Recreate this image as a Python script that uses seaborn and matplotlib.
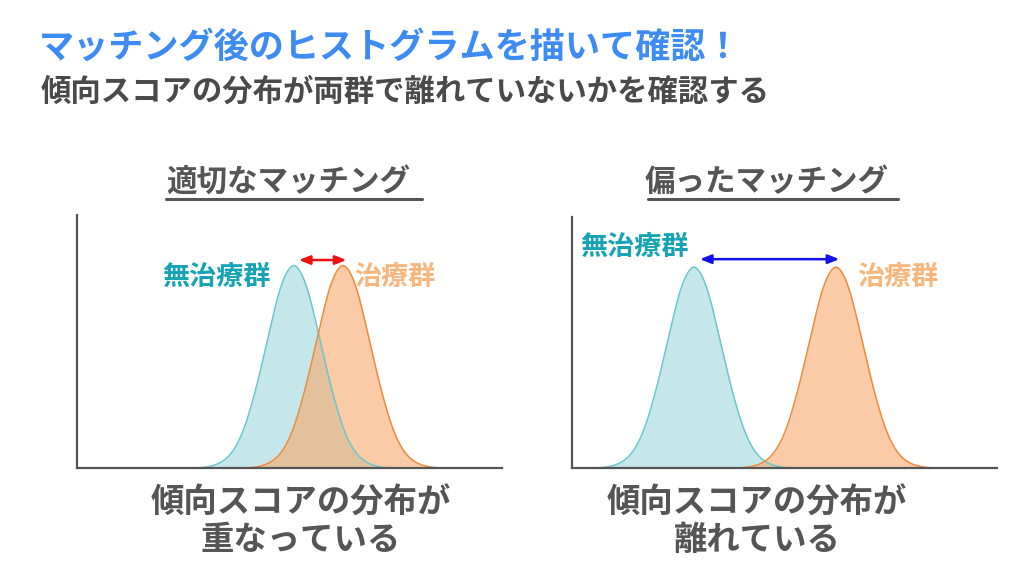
import numpy as np
import pandas as pd
import seaborn as sns
import matplotlib
matplotlib.use("Agg")
import matplotlib.pyplot as plt
from matplotlib.lines import Line2D

# ---------------- data ----------------
# histogram bins of the propensity score (0..1 along the x axis) and relative counts
counts = [1, 4, 13, 33, 60, 88, 100, 88, 60, 33, 13, 4, 1]

good_control_bins = [0.324, 0.355, 0.386, 0.417, 0.448, 0.479, 0.510,
                     0.541, 0.572, 0.603, 0.634, 0.665, 0.696]
good_treated_bins = [0.440, 0.471, 0.502, 0.533, 0.564, 0.595, 0.626,
                     0.657, 0.688, 0.719, 0.750, 0.781, 0.812]
bad_control_bins = [0.101, 0.132, 0.163, 0.194, 0.225, 0.256, 0.287,
                    0.318, 0.349, 0.380, 0.411, 0.442, 0.473]
bad_treated_bins = [0.435, 0.466, 0.497, 0.528, 0.559, 0.590, 0.621,
                    0.652, 0.683, 0.714, 0.745, 0.776, 0.807]

main_title = "マッチング後のヒストグラムを描いて確認！"
sub_title = "傾向スコアの分布が両群で離れていないかを確認する"
panel_titles = ["適切なマッチング", "偏ったマッチング"]
captions = ["傾向スコアの分布が\n重なっている", "傾向スコアの分布が\n離れている"]
group_labels = ["無治療群", "治療群"]

# ---------------- style ----------------
sns.set_theme(style="white")
plt.rcParams["font.family"] = ["Noto Sans CJK JP", "DejaVu Sans"]

BLUE_EDGE = "#6cc6cd"
BLUE_FILL = "#a0d8dc"
ORANGE_EDGE = "#ef8a3a"
ORANGE_FILL = "#f7a96b"
TEAL_TXT = "#16a3b3"
ORANGE_TXT = "#f8b67c"
GRAY = "#555555"
TITLE_BLUE = "#3d8bf5"

fig = plt.figure(figsize=(10.24, 5.76), dpi=100)
fig.patch.set_facecolor("white")

ax_left = fig.add_axes([77 / 1024, 1 - 468 / 576, 425 / 1024, 253 / 576])
ax_right = fig.add_axes([572 / 1024, 1 - 468 / 576, 425 / 1024, 251 / 576])


def draw_panel(ax, control_bins, treated_bins):
    df = pd.concat([
        pd.DataFrame({"score": control_bins, "w": counts, "g": "control"}),
        pd.DataFrame({"score": treated_bins, "w": counts, "g": "treated"}),
    ])
    for g, fill_c, edge_c, a in [("control", BLUE_FILL, BLUE_EDGE, 0.6),
                                 ("treated", ORANGE_FILL, ORANGE_EDGE, 0.6)]:
        sub = df[df["g"] == g]
        sns.kdeplot(data=sub, x="score", weights="w", bw_method=0.3,
                    fill=True, color=fill_c, alpha=a, linewidth=0, ax=ax,
                    gridsize=400)
        sns.kdeplot(data=sub, x="score", weights="w", bw_method=0.3,
                    fill=False, color=edge_c, linewidth=1.1, ax=ax,
                    gridsize=400)
    peak = max(np.max(l.get_ydata()) for l in ax.lines)
    ax.set_xlim(0, 1)
    ax.set_ylim(0, peak / 0.80)
    ax.set(xlabel="", ylabel="", xticks=[], yticks=[])
    for s in ["top", "right"]:
        ax.spines[s].set_visible(False)
    for s in ["left", "bottom"]:
        ax.spines[s].set_color(GRAY)
        ax.spines[s].set_linewidth(1.6)
    ax.patch.set_alpha(0)
    c_mean = np.average(control_bins, weights=counts)
    t_mean = np.average(treated_bins, weights=counts)
    return c_mean, t_mean


c1, t1 = draw_panel(ax_left, good_control_bins, good_treated_bins)
c2, t2 = draw_panel(ax_right, bad_control_bins, bad_treated_bins)

# arrows between the peaks
ax_left.annotate("", xy=(t1 + 0.008, 0.822), xytext=(c1 + 0.012, 0.822),
                 xycoords=("data", "axes fraction"),
                 arrowprops=dict(arrowstyle="<|-|>,head_length=0.55,head_width=0.22",
                                 color="#ee1111", lw=1.8, shrinkA=0, shrinkB=0))
ax_right.annotate("", xy=(t2 + 0.008, 0.832), xytext=(c2 + 0.014, 0.832),
                  xycoords=("data", "axes fraction"),
                  arrowprops=dict(arrowstyle="<|-|>,head_length=0.55,head_width=0.22",
                                  color="#1111ee", lw=1.8, shrinkA=0, shrinkB=0))

# group labels
lab_kw = dict(fontsize=19.5, fontweight="bold", ha="center", va="center")
ax_left.text(0.327, 0.755, group_labels[0], color=TEAL_TXT, transform=ax_left.transAxes, **lab_kw)
ax_left.text(0.748, 0.755, group_labels[1], color=ORANGE_TXT, transform=ax_left.transAxes, **lab_kw)
ax_right.text(0.148, 0.88, group_labels[0], color=TEAL_TXT, transform=ax_right.transAxes, **lab_kw)
ax_right.text(0.767, 0.76, group_labels[1], color=ORANGE_TXT, transform=ax_right.transAxes, **lab_kw)

# titles
fig.text(39 / 1024, 1 - 47 / 576, main_title, color=TITLE_BLUE, fontsize=25.3,
         fontweight="bold", ha="left", va="center")
fig.text(41 / 1024, 1 - 92 / 576, sub_title, color="#4a4a4a", fontsize=21.9,
         fontweight="bold", ha="left", va="center")

# panel titles with underline
for cx, x0, x1, t in [(288, 166, 422, panel_titles[0]), (767, 648, 898, panel_titles[1])]:
    fig.text(cx / 1024, 1 - 182 / 576, t, color=GRAY, fontsize=22,
             fontweight="bold", ha="center", va="center")
    fig.add_artist(Line2D([x0 / 1024, x1 / 1024], [1 - 199 / 576, 1 - 199 / 576],
                          color=GRAY, lw=2.2, transform=fig.transFigure))

# captions
for cx, cap in [(301, captions[0]), (757, captions[1])]:
    fig.text(cx / 1024, 1 - 522 / 576, cap, color=GRAY, fontsize=24,
             fontweight="bold", ha="center", va="center", linespacing=1.15)

fig.savefig("out.png", dpi=100, facecolor="white")
